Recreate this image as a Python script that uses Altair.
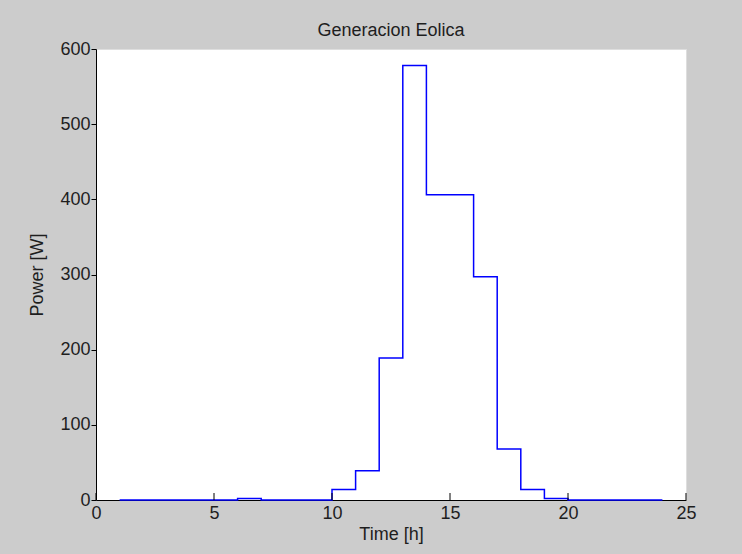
import altair as alt
import pandas as pd

# Hourly wind generation, drawn as a stair-step trace
hours = list(range(1, 25))
power = [0, 0, 0, 0, 0, 2, 0, 0, 0, 14, 39, 189,
         578, 406, 406, 297, 68, 14, 2, 0, 0, 0, 0, 0]

x_ticks = [0, 5, 10, 15, 20, 25]
y_ticks = [0, 100, 200, 300, 400, 500, 600]

FONT = "Liberation Sans"
TEXT = "#1e1e1e"
FS = 18

df = pd.DataFrame({"hour": hours, "power": power})
ticks_df = pd.DataFrame({"t": x_ticks})

x_scale = alt.Scale(domain=[0, 25], nice=False)
y_scale = alt.Scale(domain=[0, 600], nice=False)

line = alt.Chart(df).mark_line(
    interpolate="step-after", color="#0000ff", strokeWidth=1.5
).encode(
    x=alt.X("hour:Q", scale=x_scale, title="Time [h]",
            axis=alt.Axis(values=x_ticks, tickSize=0, labelPadding=4,
                          labelFlush=False, titlePadding=3, grid=False,
                          domainColor="black", labelFontSize=FS,
                          titleFontSize=FS, titleFontWeight="normal")),
    y=alt.Y("power:Q", scale=y_scale, title="Power [W]",
            axis=alt.Axis(values=y_ticks, tickSize=5, tickColor="black",
                          labelPadding=1, labelFlush=False, titlePadding=13,
                          grid=False, domainColor="black", labelFontSize=FS,
                          titleFontSize=FS, titleFontWeight="normal")),
)

# inward tick marks along the time axis
x_tick_marks = alt.Chart(ticks_df).mark_rule(color="black", strokeWidth=1).encode(
    x=alt.X("t:Q", scale=x_scale),
    y=alt.value(451),
    y2=alt.value(444),
)

chart = alt.layer(line, x_tick_marks).properties(
    width=590,
    height=451,
    title=alt.TitleParams("Generacion Eolica", fontSize=FS, fontWeight="normal",
                          font=FONT, color=TEXT, offset=0, frame="group"),
    background="#cccccc",
    padding={"left": 96, "top": 49, "right": 56, "bottom": 54},
    autosize=alt.AutoSizeParams(type="none"),
).configure_view(
    fill="white", stroke="#dedede", strokeWidth=1
).configure_axis(
    labelFont=FONT, titleFont=FONT, labelColor=TEXT, titleColor=TEXT,
    domainWidth=1,
)

chart.save("out.html", embed_options={"renderer": "svg", "actions": False})
